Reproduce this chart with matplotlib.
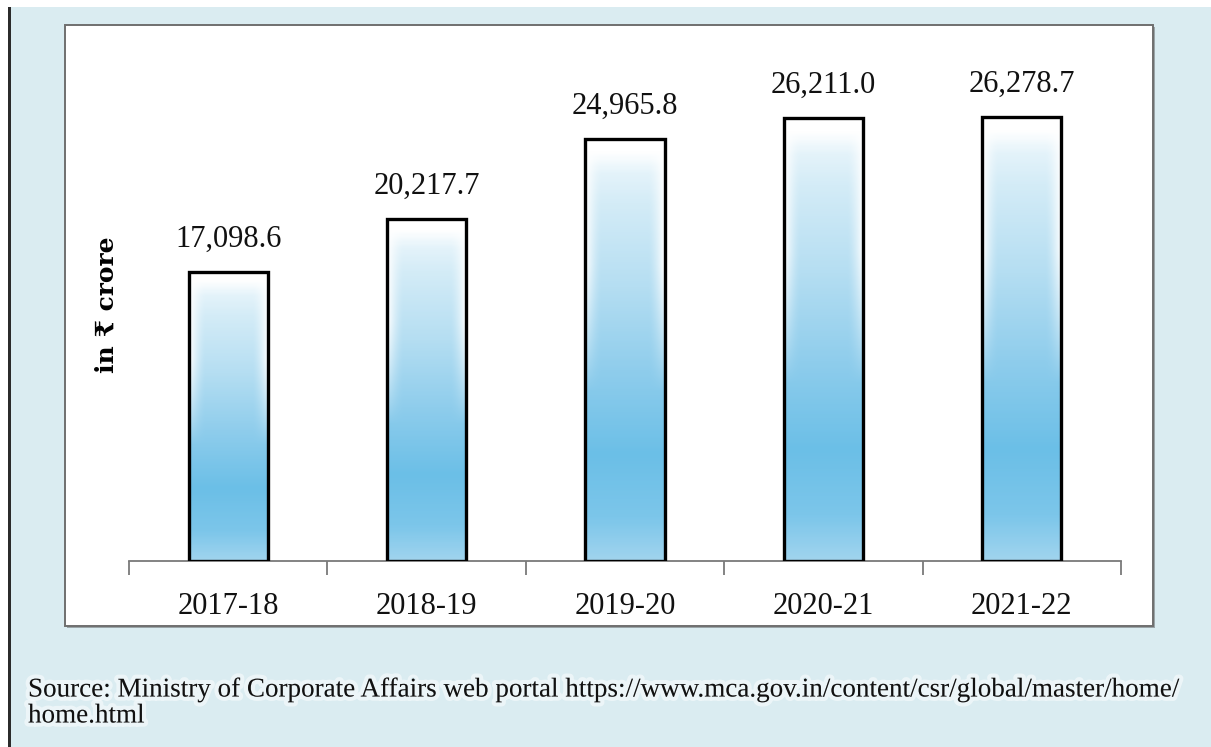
import numpy as np
import matplotlib
matplotlib.use("Agg")
import matplotlib.pyplot as plt
from matplotlib.patches import Rectangle
from matplotlib.colors import LinearSegmentedColormap
import matplotlib.patheffects as pe

years = ["2017-18", "2018-19", "2019-20", "2020-21", "2021-22"]
spend = [17098.6, 20217.7, 24965.8, 26211.0, 26278.7]
value_labels = ["17,098.6", "20,217.7", "24,965.8", "26,211.0", "26,278.7"]
source_note = ("Source: Ministry of Corporate Affairs web portal "
               "https://www.mca.gov.in/content/csr/global/master/home/\nhome.html")

W, H = 1211, 747
serif = ["Liberation Serif", "DejaVu Serif", "DejaVu Sans"]
plt.rcParams["font.family"] = serif

fig = plt.figure(figsize=(W / 100, H / 100), dpi=100, facecolor="white")

def fx(px):
    return px / W

def fy(py):
    return 1 - py / H

# panel background and the dark rule on the left
fig.patches.append(Rectangle((fx(10), 0), 1 - fx(10), fy(7), transform=fig.transFigure,
                             facecolor="#daecf1", edgecolor="none", zorder=0))
fig.patches.append(Rectangle((fx(8), 0), fx(3), fy(7), transform=fig.transFigure,
                             facecolor="#2b2b2b", edgecolor="none", zorder=1))
# white chart box with soft shadow
fig.patches.append(Rectangle((fx(67), fy(628)), fx(1155 - 67), fy(27) - fy(628),
                             transform=fig.transFigure, facecolor="#9aa5a8",
                             edgecolor="none", zorder=1))
fig.patches.append(Rectangle((fx(65), fy(626)), fx(1153 - 65), fy(25) - fy(626),
                             transform=fig.transFigure, facecolor="white",
                             edgecolor="#6f6f6f", linewidth=1.4, zorder=2))

ax = fig.add_axes([fx(129), fy(561), fx(1121 - 129), fy(30) - fy(561)])
ax.set_zorder(5)
ax.set_facecolor("none")
ax.set_xlim(-0.5, 4.5)
ax.set_ylim(0, 31400)

# vertical fill: lighter at the foot, strongest low down, fading to white at the top
grad_cmap = LinearSegmentedColormap.from_list(
    "barfill",
    [(0.0, "#a0d4ee"), (0.1, "#7cc6ea"), (0.25, "#6bbfe7"), (0.45, "#8fcdec"),
     (0.65, "#b5def2"), (0.85, "#d4ecf7"), (0.92, "#e4f3fa"), (0.97, "#ffffff"),
     (1.0, "#ffffff")])

bar_w = 0.40
nx, ny = 60, 300
u = np.linspace(0, 1, nx)[None, :]
v = np.linspace(0, 1, ny)[:, None]
base = grad_cmap(np.repeat(v, nx, axis=1))[..., :3]
# soft white inset along the sides in the upper part of each bar
side = np.clip(1 - np.minimum(u, 1 - u) / 0.2, 0, 1) ** 1.5
mix = (side * np.clip((v - 0.4) / 0.3, 0, 1))[..., None]
fill = base * (1 - mix) + np.ones(3) * mix

bars = ax.bar(range(len(years)), spend, width=bar_w, facecolor="none",
              edgecolor="black", linewidth=2.4, zorder=4)
for rect in bars:
    x0 = rect.get_x()
    img = ax.imshow(fill, origin="lower", aspect="auto", interpolation="bilinear",
                    extent=[x0, x0 + bar_w, 0, rect.get_height()], zorder=3)
    img.set_clip_path(rect)

for i, (val, lab) in enumerate(zip(spend, value_labels)):
    ax.annotate(lab, (i, val), xytext=(0, 13), textcoords="offset points",
                ha="center", va="bottom", fontsize=22, color="#111111")

for side_name in ["left", "right", "top"]:
    ax.spines[side_name].set_visible(False)
ax.spines["bottom"].set_color("#7a7a7a")
ax.spines["bottom"].set_linewidth(1.3)
ax.set_yticks([])
ax.set_xticks(range(len(years)))
ax.set_xticklabels(years, fontsize=22, color="#111111")
ax.set_xticks(np.arange(-0.5, 5, 1), minor=True)
ax.tick_params(axis="x", which="major", length=0, pad=22)
ax.tick_params(axis="x", which="minor", length=10, width=1.3, color="#7a7a7a",
               direction="out")

fig.text(fx(107), fy(305), "in ₹ crore", rotation=90, ha="center", va="center",
         fontsize=18, fontweight="bold", family=["DejaVu Serif", "DejaVu Sans"],
         zorder=6)

fig.text(fx(28), fy(703), source_note, ha="left", va="center", fontsize=19.5,
         color="#111111", linespacing=1.05, zorder=6,
         path_effects=[pe.withStroke(linewidth=6, foreground="white", alpha=0.5)])

fig.savefig("out.png", dpi=100, facecolor=fig.get_facecolor())
